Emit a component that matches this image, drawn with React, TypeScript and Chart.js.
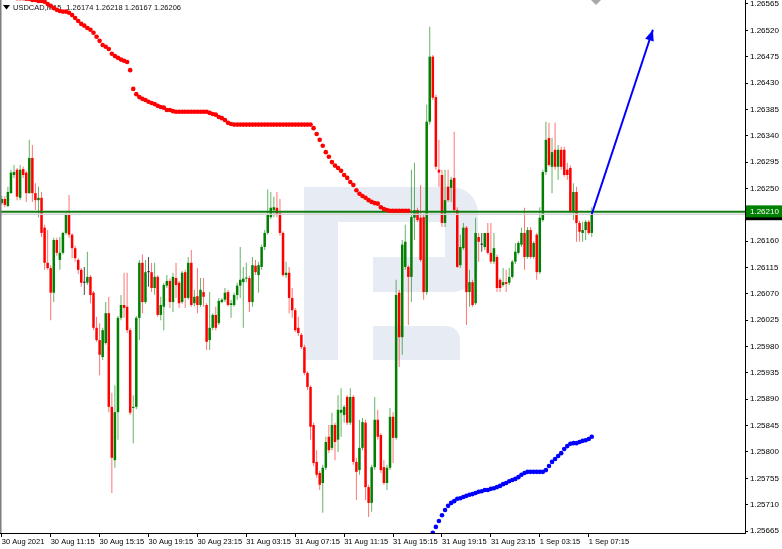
import React, { useEffect, useRef } from 'react';
import { Chart, registerables } from 'chart.js';

Chart.register(...registerables);

// ---------- data ----------
const symbolTitle = 'USDCAD,M15';
const lastBarQuote = [1.26174, 1.26218, 1.26167, 1.26206];

const timeLabels = [
  '30 Aug 2021', '30 Aug 11:15', '30 Aug 15:15', '30 Aug 19:15', '30 Aug 23:15',
  '31 Aug 03:15', '31 Aug 07:15', '31 Aug 11:15', '31 Aug 15:15', '31 Aug 19:15',
  '31 Aug 23:15', '1 Sep 03:15', '1 Sep 07:15',
];
const timeTickBars = [0, 16, 32, 48, 64, 80, 96, 112, 128, 144, 160, 176, 192];

const priceTicks = [
  1.25665, 1.2571, 1.25755, 1.258, 1.25845, 1.2589, 1.25935, 1.2598, 1.26025, 1.2607,
  1.26115, 1.2616, 1.26205, 1.2625, 1.26295, 1.2634, 1.26385, 1.2643, 1.26475, 1.2652, 1.26565,
];

const opens = [
  1.26225, 1.26232, 1.26220, 1.26242, 1.26273, 1.26282, 1.26234, 1.26283, 1.26277, 1.26242,
  1.26302, 1.26242, 1.26230, 1.26234, 1.26183, 1.26123, 1.26114, 1.26072, 1.26162, 1.26128,
  1.26140, 1.26174, 1.26205, 1.26171, 1.26148, 1.26128, 1.26111, 1.26089, 1.26089, 1.26099,
  1.26072, 1.26012, 1.25991, 1.25962, 1.25986, 1.26037, 1.25877, 1.25786, 1.25868, 1.26029,
  1.26051, 1.26048, 1.26008, 1.25875, 1.25877, 1.26029, 1.26123, 1.26056, 1.26107, 1.26107,
  1.26080, 1.26099, 1.26034, 1.26048, 1.26084, 1.26092, 1.26056, 1.26097, 1.26089, 1.26056,
  1.26107, 1.26063, 1.26123, 1.26054, 1.26066, 1.26051, 1.26073, 1.26051, 1.25991, 1.26012,
  1.26034, 1.26020, 1.26056, 1.26060, 1.26073, 1.26051, 1.26051, 1.26068, 1.26084, 1.26090,
  1.26096, 1.26097, 1.26056, 1.26118, 1.26102, 1.26116, 1.26150, 1.26174, 1.26201, 1.26213,
  1.26217, 1.26208, 1.26174, 1.26102, 1.26106, 1.26063, 1.26042, 1.26012, 1.26000, 1.25979,
  1.25935, 1.25911, 1.25846, 1.25783, 1.25764, 1.25747, 1.25773, 1.25826, 1.25807, 1.25846,
  1.25821, 1.25867, 1.25863, 1.25894, 1.25850, 1.25894, 1.25783, 1.25769, 1.25807, 1.25850,
  1.25740, 1.25713, 1.25774, 1.25855, 1.25829, 1.25774, 1.25747, 1.25773, 1.25860, 1.25824,
  1.26072, 1.25996, 1.26116, 1.26116, 1.26099, 1.26200, 1.26213, 1.26200, 1.26201, 1.26073,
  1.26364, 1.26475, 1.26406, 1.26282, 1.26273, 1.26191, 1.26253, 1.26251, 1.26268, 1.26213,
  1.26119, 1.26148, 1.26183, 1.26073, 1.26090, 1.26054, 1.26167, 1.26154, 1.26150, 1.26174,
  1.26140, 1.26125, 1.26133, 1.26094, 1.26085, 1.26090, 1.26089, 1.26099, 1.26125, 1.26140,
  1.26154, 1.26174, 1.26133, 1.26179, 1.26133, 1.26171, 1.26107, 1.26196, 1.26278, 1.26336,
  1.26287, 1.26316, 1.26287, 1.26316, 1.26316, 1.26282, 1.26285, 1.26210, 1.26244, 1.26191,
  1.26174, 1.26179, 1.26193, 1.26174,
];

const highs = [
  1.26237, 1.26237, 1.26253, 1.26282, 1.26290, 1.26285, 1.26290, 1.26287, 1.26280, 1.26333,
  1.26324, 1.26259, 1.26253, 1.26244, 1.26188, 1.26179, 1.26119, 1.26166, 1.26166, 1.26167,
  1.26176, 1.26208, 1.26239, 1.26174, 1.26152, 1.26131, 1.26114, 1.26116, 1.26142, 1.26102,
  1.26075, 1.26031, 1.26020, 1.26012, 1.26056, 1.26065, 1.25901, 1.25914, 1.26032, 1.26068,
  1.26106, 1.26106, 1.26012, 1.25897, 1.26032, 1.26128, 1.26137, 1.26128, 1.26133, 1.26123,
  1.26123, 1.26102, 1.26065, 1.26089, 1.26102, 1.26096, 1.26106, 1.26123, 1.26092, 1.26109,
  1.26111, 1.26133, 1.26145, 1.26077, 1.26114, 1.26097, 1.26097, 1.26054, 1.26073, 1.26037,
  1.26048, 1.26063, 1.26063, 1.26080, 1.26077, 1.26060, 1.26072, 1.26089, 1.26150, 1.26116,
  1.26123, 1.26101, 1.26133, 1.26128, 1.26125, 1.26154, 1.26179, 1.26248, 1.26244, 1.26236,
  1.26244, 1.26232, 1.26177, 1.26125, 1.26116, 1.26080, 1.26046, 1.26031, 1.26003, 1.25983,
  1.25938, 1.25914, 1.25850, 1.25803, 1.25768, 1.25778, 1.25826, 1.25846, 1.25867, 1.25850,
  1.25897, 1.25909, 1.25880, 1.25897, 1.25909, 1.25897, 1.25790, 1.25855, 1.25858, 1.25855,
  1.25744, 1.25778, 1.25894, 1.25872, 1.25832, 1.25786, 1.25778, 1.25875, 1.25868, 1.26094,
  1.26077, 1.26162, 1.26188, 1.26119, 1.26282, 1.26294, 1.26217, 1.26256, 1.26205, 1.26393,
  1.26526, 1.26478, 1.26410, 1.26333, 1.26282, 1.26282, 1.26282, 1.26270, 1.26347, 1.26218,
  1.26171, 1.26191, 1.26186, 1.26111, 1.26094, 1.26200, 1.26174, 1.26174, 1.26174, 1.26191,
  1.26191, 1.26174, 1.26137, 1.26097, 1.26114, 1.26111, 1.26114, 1.26128, 1.26157, 1.26160,
  1.26183, 1.26217, 1.26184, 1.26184, 1.26160, 1.26174, 1.26218, 1.26282, 1.26364, 1.26362,
  1.26336, 1.26362, 1.26324, 1.26321, 1.26321, 1.26294, 1.26289, 1.26259, 1.26253, 1.26195,
  1.26193, 1.26196, 1.26196, 1.26218,
];

const lows = [
  1.26222, 1.26218, 1.26218, 1.26241, 1.26268, 1.26230, 1.26230, 1.26268, 1.26227, 1.26241,
  1.26227, 1.26213, 1.26201, 1.26167, 1.26111, 1.26111, 1.26025, 1.26056, 1.26135, 1.26111,
  1.26137, 1.26171, 1.26166, 1.26131, 1.26125, 1.26104, 1.26082, 1.26068, 1.26085, 1.26054,
  1.26008, 1.25988, 1.25931, 1.25957, 1.25983, 1.25868, 1.25730, 1.25773, 1.25821, 1.26025,
  1.26029, 1.26003, 1.25863, 1.25815, 1.25873, 1.25991, 1.26037, 1.26053, 1.26082, 1.26073,
  1.26068, 1.26031, 1.26025, 1.26008, 1.26080, 1.26046, 1.26039, 1.26063, 1.26046, 1.26053,
  1.26046, 1.26060, 1.26048, 1.26049, 1.26037, 1.26048, 1.26048, 1.25974, 1.25974, 1.26008,
  1.26008, 1.26017, 1.26054, 1.26056, 1.26048, 1.26029, 1.26048, 1.26060, 1.26063, 1.26012,
  1.26090, 1.26039, 1.26048, 1.26102, 1.26072, 1.26111, 1.26145, 1.26171, 1.26198, 1.26201,
  1.26201, 1.26169, 1.26099, 1.26097, 1.26037, 1.26029, 1.26005, 1.25998, 1.25976, 1.25931,
  1.25906, 1.25821, 1.25776, 1.25756, 1.25735, 1.25696, 1.25769, 1.25798, 1.25803, 1.25786,
  1.25800, 1.25826, 1.25850, 1.25846, 1.25846, 1.25778, 1.25718, 1.25761, 1.25803, 1.25718,
  1.25689, 1.25698, 1.25769, 1.25821, 1.25764, 1.25744, 1.25735, 1.25769, 1.25781, 1.25821,
  1.25945, 1.25966, 1.26111, 1.26017, 1.26056, 1.26162, 1.26193, 1.26125, 1.26060, 1.26068,
  1.26359, 1.26401, 1.26282, 1.26253, 1.26184, 1.26184, 1.26227, 1.26227, 1.26210, 1.26114,
  1.26114, 1.26145, 1.26017, 1.26048, 1.26048, 1.26051, 1.26125, 1.26142, 1.26145, 1.26137,
  1.26121, 1.26121, 1.26073, 1.26073, 1.26082, 1.26073, 1.26085, 1.26096, 1.26121, 1.26137,
  1.26150, 1.26111, 1.26130, 1.26130, 1.26130, 1.26094, 1.26104, 1.26193, 1.26273, 1.26287,
  1.26242, 1.26282, 1.26265, 1.26282, 1.26270, 1.26265, 1.26207, 1.26196, 1.26159, 1.26159,
  1.26159, 1.26162, 1.26171, 1.26167,
];

const closes = [
  1.26232, 1.26222, 1.26244, 1.26277, 1.26278, 1.26236, 1.26282, 1.26273, 1.26242, 1.26302,
  1.26242, 1.26230, 1.26234, 1.26174, 1.26123, 1.26114, 1.26072, 1.26162, 1.26140, 1.26140,
  1.26174, 1.26205, 1.26171, 1.26148, 1.26131, 1.26111, 1.26089, 1.26089, 1.26099, 1.26068,
  1.26012, 1.25991, 1.25966, 1.26008, 1.26037, 1.25877, 1.25790, 1.25868, 1.26029, 1.26051,
  1.26046, 1.26008, 1.25867, 1.25877, 1.26029, 1.26123, 1.26056, 1.26107, 1.26107, 1.26080,
  1.26099, 1.26034, 1.26051, 1.26085, 1.26092, 1.26056, 1.26099, 1.26085, 1.26054, 1.26106,
  1.26063, 1.26123, 1.26051, 1.26065, 1.26051, 1.26077, 1.26065, 1.25988, 1.26012, 1.26034,
  1.26012, 1.26058, 1.26060, 1.26072, 1.26051, 1.26054, 1.26068, 1.26084, 1.26094, 1.26096,
  1.26097, 1.26056, 1.26119, 1.26107, 1.26119, 1.26150, 1.26174, 1.26205, 1.26217, 1.26218,
  1.26205, 1.26174, 1.26102, 1.26106, 1.26063, 1.26042, 1.26008, 1.26003, 1.25979, 1.25935,
  1.25911, 1.25843, 1.25781, 1.25761, 1.25744, 1.25773, 1.25817, 1.25803, 1.25846, 1.25817,
  1.25872, 1.25872, 1.25877, 1.25850, 1.25894, 1.25783, 1.25766, 1.25807, 1.25851, 1.25740,
  1.25713, 1.25774, 1.25855, 1.25826, 1.25769, 1.25747, 1.25773, 1.25860, 1.25824, 1.26068,
  1.25996, 1.26154, 1.26159, 1.26099, 1.26201, 1.26213, 1.26196, 1.26128, 1.26073, 1.26364,
  1.26475, 1.26405, 1.26287, 1.26277, 1.26191, 1.26230, 1.26230, 1.26265, 1.26213, 1.26116,
  1.26150, 1.26183, 1.26073, 1.26090, 1.26051, 1.26174, 1.26159, 1.26154, 1.26174, 1.26140,
  1.26125, 1.26148, 1.26080, 1.26080, 1.26090, 1.26087, 1.26099, 1.26125, 1.26142, 1.26157,
  1.26174, 1.26133, 1.26179, 1.26133, 1.26157, 1.26107, 1.26200, 1.26278, 1.26333, 1.26290,
  1.26312, 1.26287, 1.26316, 1.26287, 1.26273, 1.26273, 1.26210, 1.26244, 1.26191, 1.26176,
  1.26179, 1.26193, 1.26174, 1.26206,
];

// trailing dots (red, above price) from bar 0
const redDots = [
  1.26577, 1.26577, 1.26577, 1.26577, 1.26577, 1.26575, 1.26575, 1.26575, 1.26574, 1.26574,
  1.26572, 1.26572, 1.26570, 1.26570, 1.26569, 1.26565, 1.26562, 1.26558, 1.26555, 1.26553,
  1.26552, 1.26552, 1.26550, 1.26546, 1.26541, 1.26536, 1.26531, 1.26528, 1.26524, 1.26521,
  1.26516, 1.26509, 1.26502, 1.26495, 1.26492, 1.26488, 1.26480, 1.26476, 1.26473, 1.26470,
  1.26468, 1.26466, 1.26452, 1.26420, 1.26411, 1.26406, 1.26403, 1.26401, 1.26398, 1.26396,
  1.26394, 1.26391, 1.26389, 1.26388, 1.26384, 1.26384, 1.26382, 1.26381, 1.26381, 1.26381,
  1.26381, 1.26381, 1.26381, 1.26381, 1.26381, 1.26381, 1.26381, 1.26381, 1.26379, 1.26377,
  1.26376, 1.26372, 1.26370, 1.26367, 1.26362, 1.26360, 1.26359, 1.26359, 1.26359, 1.26359,
  1.26359, 1.26359, 1.26359, 1.26359, 1.26359, 1.26359, 1.26359, 1.26359, 1.26359, 1.26359,
  1.26359, 1.26359, 1.26359, 1.26359, 1.26359, 1.26359, 1.26359, 1.26359, 1.26359, 1.26359,
  1.26359, 1.26359, 1.26353, 1.26343, 1.26333, 1.26323, 1.26312, 1.26304, 1.26295, 1.26289,
  1.26285, 1.26280, 1.26273, 1.26268, 1.26261, 1.26256, 1.26247, 1.26241, 1.26237, 1.26234,
  1.26230, 1.26227, 1.26225, 1.26224, 1.26218, 1.26215, 1.26213, 1.26212, 1.26212, 1.26212,
  1.26212, 1.26212, 1.26212, 1.26212,
];

// trailing dots (blue, below price) starting at bar 141
const blueDotsStartBar = 141;
const blueDots = [
  1.25662, 1.25672, 1.25682, 1.25692, 1.25701, 1.25708, 1.25713, 1.25716, 1.25720, 1.25721,
  1.25723, 1.25725, 1.25727, 1.25728, 1.25730, 1.25732, 1.25733, 1.25735, 1.25735, 1.25737,
  1.25738, 1.25740, 1.25742, 1.25745, 1.25747, 1.25750, 1.25752, 1.25754, 1.25757, 1.25761,
  1.25764, 1.25766, 1.25766, 1.25766, 1.25766, 1.25766, 1.25766, 1.25769, 1.25776, 1.25783,
  1.25788, 1.25793, 1.25798, 1.25805, 1.25810, 1.25814, 1.25815, 1.25815, 1.25817, 1.25819,
  1.25820, 1.25822, 1.25826,
];

const levelPrice = 1.2621;
const bidPrice = 1.26206;
const arrowStart = { bar: 193, price: 1.26206 };
const arrowEnd = { bar: 213, price: 1.26521 };

// view window
const X_MIN = -0.586;
const X_MAX = 243.13;
const Y_MIN = 1.256616;
const Y_MAX = 1.265718;

const FONT = 'Liberation Sans';
const BULL = '#007f00';
const BEAR = '#ff0000';
const DOJI = '#202020';
const BULL_WICK = 'rgba(0,128,0,0.6)';
const BEAR_WICK = 'rgba(255,0,0,0.55)';
const DOJI_WICK = 'rgba(0,0,0,0.7)';

const bgPlugin = {
  id: 'bgFill',
  beforeDraw(chart: any) {
    const c = chart.ctx;
    c.save();
    c.fillStyle = '#ffffff';
    c.fillRect(0, 0, chart.width, chart.height);
    c.restore();
  },
};

const backdropPlugin = {
  id: 'backdrop',
  beforeDatasetsDraw(chart: any) {
    const c = chart.ctx;
    const a = chart.chartArea;
    const ox = a.left;
    const oy = a.top;
    c.save();
    c.beginPath();
    c.rect(a.left, a.top, a.right - a.left, a.bottom - a.top);
    c.clip();
    // watermark logo
    c.fillStyle = '#e7ecf4';
    c.beginPath();
    c.rect(ox + 304, oy + 187, 34, 173);
    c.rect(ox + 338, oy + 187, 108, 35);
    c.rect(ox + 373, oy + 257, 73, 35);
    c.fill();
    c.beginPath();
    c.moveTo(ox + 445, oy + 187);
    c.lineTo(ox + 452, oy + 187);
    c.arcTo(ox + 478, oy + 187, ox + 478, oy + 213, 26);
    c.lineTo(ox + 478, oy + 266);
    c.arcTo(ox + 478, oy + 292, ox + 452, oy + 292, 26);
    c.lineTo(ox + 445, oy + 292);
    c.closePath();
    c.fill();
    c.beginPath();
    c.moveTo(ox + 373, oy + 326);
    c.lineTo(ox + 446, oy + 326);
    c.arcTo(ox + 460, oy + 326, ox + 460, oy + 340, 14);
    c.lineTo(ox + 460, oy + 360);
    c.lineTo(ox + 373, oy + 360);
    c.closePath();
    c.fill();
    // header
    c.fillStyle = '#000';
    c.beginPath();
    c.moveTo(ox + 3, oy + 5);
    c.lineTo(ox + 10, oy + 5);
    c.lineTo(ox + 6.5, oy + 9.5);
    c.closePath();
    c.fill();
    c.font = `7.5px "${FONT}"`;
    c.textBaseline = 'middle';
    c.textAlign = 'left';
    c.fillStyle = '#111';
    c.fillText(symbolTitle, ox + 13, oy + 8);
    const w = c.measureText(symbolTitle).width;
    c.fillText(lastBarQuote.map((v) => v.toFixed(5)).join(' '), ox + 13 + w + 5, oy + 8);
    c.restore();
  },
};

const overlayPlugin = {
  id: 'overlay',
  afterDatasetsDraw(chart: any) {
    const c = chart.ctx;
    const xs = chart.scales.x;
    const ys = chart.scales.y;
    const x1 = xs.getPixelForValue(arrowStart.bar);
    const y1 = ys.getPixelForValue(arrowStart.price);
    const x2 = xs.getPixelForValue(arrowEnd.bar);
    const y2 = ys.getPixelForValue(arrowEnd.price);
    const ang = Math.atan2(y2 - y1, x2 - x1);
    const len = 11;
    const hw = 4.5;
    c.save();
    c.fillStyle = '#0000ff';
    c.beginPath();
    c.moveTo(x2, y2);
    c.lineTo(x2 - len * Math.cos(ang) + hw * Math.sin(ang), y2 - len * Math.sin(ang) - hw * Math.cos(ang));
    c.lineTo(x2 - len * Math.cos(ang) - hw * Math.sin(ang), y2 - len * Math.sin(ang) + hw * Math.cos(ang));
    c.closePath();
    c.fill();
    c.restore();
  },
  afterDraw(chart: any) {
    const c = chart.ctx;
    const a = chart.chartArea;
    const ys = chart.scales.y;
    c.save();
    // left frame edge
    c.fillStyle = '#7d7d7d';
    c.fillRect(0, a.top, 1.5, a.bottom - a.top);
    // shift marker
    c.fillStyle = '#a8a8a8';
    c.beginPath();
    c.moveTo(591, 0);
    c.lineTo(601, 0);
    c.lineTo(596, 5);
    c.closePath();
    c.fill();
    // price labels
    c.font = `8px "${FONT}"`;
    c.textBaseline = 'middle';
    c.textAlign = 'left';
    const yb = ys.getPixelForValue(bidPrice);
    c.fillStyle = '#000';
    c.fillRect(a.right + 1, yb - 6, chart.width - a.right - 1, 12);
    c.fillStyle = '#fff';
    c.fillText(bidPrice.toFixed(5), a.right + 5, yb + 0.5);
    const yl = ys.getPixelForValue(levelPrice);
    c.fillStyle = '#008000';
    c.fillRect(a.right + 1, yl - 6.5, chart.width - a.right - 1, 12);
    c.fillStyle = '#fff';
    c.fillText(levelPrice.toFixed(5), a.right + 5, yl);
    c.restore();
  },
};

export default function App() {
  const ref = useRef<HTMLCanvasElement | null>(null);

  useEffect(() => {
    document.body.style.margin = '0';
    const canvas = ref.current;
    if (!canvas) return;

    const idx = opens.map((_, i) => i);
    const dir = idx.map((i) => (closes[i] > opens[i] ? 1 : closes[i] < opens[i] ? -1 : 0));
    const bodyColors = dir.map((d) => (d > 0 ? BULL : d < 0 ? BEAR : DOJI));
    const wickColors = dir.map((d) => (d > 0 ? BULL_WICK : d < 0 ? BEAR_WICK : DOJI_WICK));

    const chart = new Chart(canvas, {
      type: 'bar',
      data: {
        datasets: [
          {
            type: 'line',
            label: 'level',
            data: [
              { x: X_MIN - 2, y: levelPrice },
              { x: X_MAX + 2, y: levelPrice },
            ],
            borderColor: '#0f7d0f',
            borderWidth: 2,
            pointRadius: 0,
            order: 4,
          } as any,
          {
            type: 'line',
            label: 'bid',
            data: [
              { x: X_MIN - 2, y: bidPrice },
              { x: X_MAX + 2, y: bidPrice },
            ],
            borderColor: '#d4d4d4',
            borderWidth: 1.5,
            pointRadius: 0,
            order: 4.5,
          } as any,
          {
            type: 'bar',
            label: 'wicks',
            data: idx.map((i) => ({ x: i, y: [lows[i], highs[i]] })),
            backgroundColor: wickColors,
            barThickness: 1,
            grouped: false,
            inflateAmount: 0,
            borderWidth: 0,
            order: 7,
          } as any,
          {
            type: 'bar',
            label: 'bodies',
            data: idx.map((i) => ({ x: i, y: [opens[i], closes[i]] })),
            backgroundColor: bodyColors,
            barThickness: 2.5,
            minBarLength: 1,
            grouped: false,
            inflateAmount: 0,
            borderWidth: 0,
            order: 6,
          } as any,
          {
            type: 'line',
            label: 'sarRed',
            data: redDots.map((v, i) => ({ x: i, y: v })),
            showLine: false,
            pointRadius: 2.3,
            pointBackgroundColor: '#ff0000',
            pointBorderWidth: 0,
            order: 3,
          } as any,
          {
            type: 'line',
            label: 'sarBlue',
            data: blueDots.map((v, i) => ({ x: blueDotsStartBar + i, y: v })),
            showLine: false,
            pointRadius: 2.3,
            pointBackgroundColor: '#0000ff',
            pointBorderWidth: 0,
            order: 3,
          } as any,
          {
            type: 'line',
            label: 'arrow',
            data: [
              { x: arrowStart.bar, y: arrowStart.price },
              { x: arrowEnd.bar, y: arrowEnd.price },
            ],
            borderColor: '#0000ff',
            borderWidth: 2,
            pointRadius: 0,
            order: 1,
          } as any,
        ],
      },
      options: {
        responsive: false,
        animation: false,
        devicePixelRatio: 1,
        layout: { padding: 0, autoPadding: false } as any,
        plugins: {
          legend: { display: false },
          tooltip: { enabled: false },
        },
        scales: {
          x: {
            type: 'linear',
            position: 'bottom',
            min: X_MIN,
            max: X_MAX,
            offset: false,
            bounds: 'data',
            grid: {
              display: true,
              drawOnChartArea: false,
              drawTicks: true,
              tickLength: 4,
              color: '#000',
              offset: false,
            },
            border: { display: true, color: '#000', width: 1 },
            ticks: {
              autoSkip: false,
              maxRotation: 0,
              minRotation: 0,
              align: 'start',
              padding: 0,
              color: '#000',
              font: { family: FONT, size: 7.5 },
              callback: (v: any) => {
                const k = timeTickBars.indexOf(Math.round(Number(v)));
                return k >= 0 ? timeLabels[k] : '';
              },
            },
            afterBuildTicks: (s: any) => {
              s.ticks = timeTickBars.map((v) => ({ value: v }));
            },
            afterFit: (s: any) => {
              s.height = 16;
              s.paddingLeft = 0;
              s.paddingRight = 0;
            },
          } as any,
          y: {
            type: 'linear',
            position: 'right',
            min: Y_MIN,
            max: Y_MAX,
            bounds: 'data',
            beginAtZero: false,
            grid: {
              display: true,
              drawOnChartArea: false,
              drawTicks: true,
              tickLength: 3,
              color: '#000',
            },
            border: { display: true, color: '#000', width: 1 },
            ticks: {
              autoSkip: false,
              padding: 2,
              color: '#000',
              font: { family: FONT, size: 8 },
              callback: (v: any) => Number(v).toFixed(5),
            },
            afterBuildTicks: (s: any) => {
              s.ticks = priceTicks.map((v) => ({ value: v }));
            },
            afterFit: (s: any) => {
              s.width = 37;
              s.paddingTop = 0;
              s.paddingBottom = 0;
            },
          } as any,
        },
      },
      plugins: [bgPlugin, backdropPlugin, overlayPlugin],
    });

    return () => {
      chart.destroy();
    };
  }, []);

  return (
    <div style={{ position: 'absolute', left: 0, top: 0, width: 782, height: 549, background: '#fff' }}>
      <canvas ref={ref} width={782} height={549} style={{ width: 782, height: 549, display: 'block' }} />
    </div>
  );
}
